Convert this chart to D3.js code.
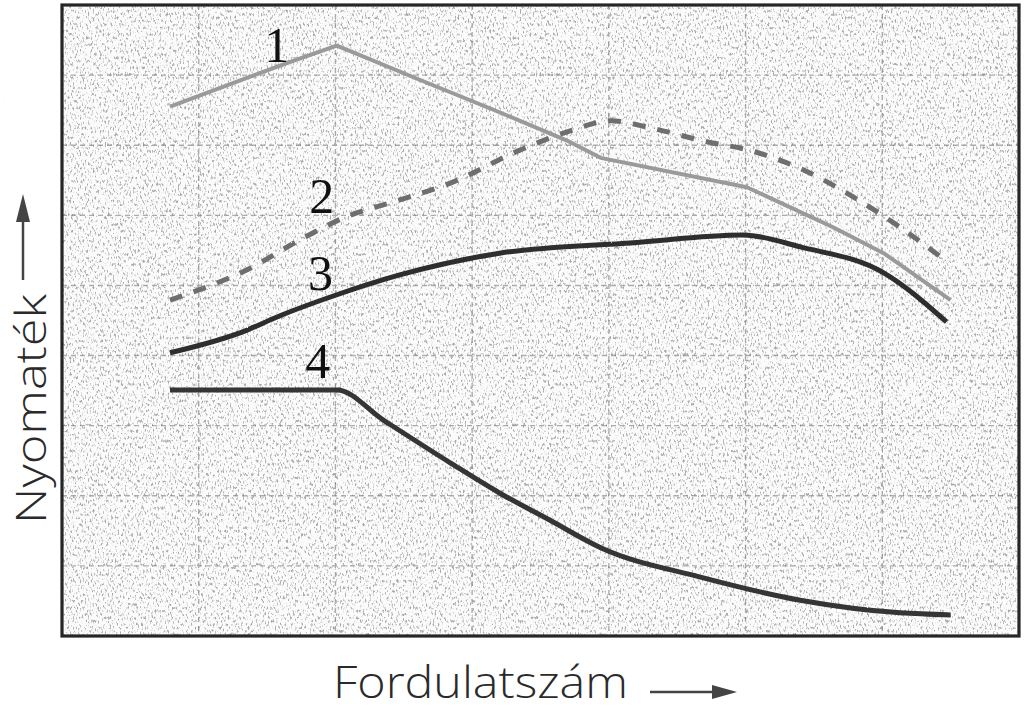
<!DOCTYPE html>
<html>
<head>
<meta charset="utf-8">
<script src="https://cdn.jsdelivr.net/npm/d3@7/dist/d3.min.js"></script>
<style>
  html, body { margin: 0; padding: 0; background: #fff; }
  svg { display: block; }
</style>
</head>
<body>
<svg id="chart" width="1024" height="718"></svg>
<script>
// ---- data (abstract units: x 0..7 columns, y 0..9 rows) ----
const curveNames = ["1", "2", "3", "4"];

const curve1X = [0.79, 1.67, 2.01, 2.62, 3.20, 3.69, 3.94, 5.01, 5.64, 6.01, 6.50];
const curve1Y = [7.55, 8.19, 8.42, 7.93, 7.47, 7.07, 6.82, 6.40, 5.83, 5.46, 4.79];

const curve2X = [0.79, 1.38, 1.74, 2.08, 2.42, 2.84, 3.35, 3.74, 4.01, 4.30, 4.67, 5.08, 5.42, 5.79, 6.13, 6.48];
const curve2Y = [4.79, 5.25, 5.65, 5.98, 6.19, 6.46, 6.93, 7.22, 7.35, 7.25, 7.07, 6.90, 6.65, 6.26, 5.83, 5.33];

const curve3X = [0.79, 1.35, 1.56, 2.00, 2.47, 3.20, 4.18, 4.98, 5.40, 6.01, 6.47];
const curve3Y = [4.04, 4.36, 4.54, 4.86, 5.15, 5.46, 5.61, 5.72, 5.55, 5.18, 4.48];

const curve4X = [0.79, 2.01, 2.35, 2.84, 3.20, 3.57, 3.94, 4.67, 5.40, 6.13, 6.50];
const curve4Y = [3.51, 3.51, 3.08, 2.47, 2.04, 1.65, 1.26, 0.84, 0.51, 0.33, 0.30];

const labelX = [1.57, 1.90, 1.89, 1.87];
const labelY = [8.19, 6.03, 4.94, 3.68];

const gridX = [1, 2, 3, 4, 5, 6];
const gridY = [1, 2, 3, 4, 5, 6, 7, 8];

const xTitle = "Fordulatszám";
const yTitle = "Nyomaték";

// ---- layout ----
const svg = d3.select("#chart");
const L = 62, R = 1019, T = 5, B = 636;
const x = d3.scaleLinear().domain([0, 7]).range([L, R]);
const y = d3.scaleLinear().domain([0, 9]).range([B, T]);

const defs = svg.append("defs");
const f = defs.append("filter").attr("id", "noise")
  .attr("filterUnits", "userSpaceOnUse")
  .attr("x", L).attr("y", T).attr("width", R - L).attr("height", B - T);
f.append("feTurbulence").attr("type", "fractalNoise")
  .attr("baseFrequency", "0.6 0.3").attr("numOctaves", 2).attr("seed", 7).attr("result", "t");
f.append("feColorMatrix").attr("type", "matrix")
  .attr("values", "0 0 0 0 0.4  0 0 0 0 0.4  0 0 0 0 0.4  -5 0 0 0 2.3");

const f2 = defs.append("filter").attr("id", "speck")
  .attr("filterUnits", "userSpaceOnUse")
  .attr("x", 0).attr("y", 0).attr("width", 1024).attr("height", 718);
f2.append("feTurbulence").attr("type", "fractalNoise")
  .attr("baseFrequency", "0.9").attr("numOctaves", 1).attr("seed", 3);
f2.append("feColorMatrix").attr("type", "matrix")
  .attr("values", "0 0 0 0 0.5  0 0 0 0 0.5  0 0 0 0 0.5  -14 0 0 0 3.6");

const lineFilter = defs.append("filter").attr("id", "rough");
lineFilter.append("feTurbulence").attr("type", "fractalNoise")
  .attr("baseFrequency", "0.8").attr("numOctaves", 1).attr("seed", 11).attr("result", "n");
lineFilter.append("feDisplacementMap").attr("in", "SourceGraphic").attr("in2", "n")
  .attr("scale", 1.6);

// background
svg.append("rect").attr("width", 1024).attr("height", 718).attr("fill", "#fff");
svg.append("rect").attr("width", 1024).attr("height", 718)
  .attr("filter", "url(#speck)").attr("opacity", 0.12);

// plot area
svg.append("rect").attr("x", L).attr("y", T).attr("width", R - L).attr("height", B - T)
  .attr("fill", "#fbfbfb");
svg.append("rect").attr("x", L).attr("y", T).attr("width", R - L).attr("height", B - T)
  .attr("filter", "url(#noise)");

// grid
const grid = svg.append("g").attr("stroke", "#7a7a7a").attr("stroke-width", 1.4)
  .attr("stroke-dasharray", "5 4").attr("opacity", 0.6);
grid.selectAll(".gx").data(gridX).join("line")
  .attr("x1", d => x(d)).attr("x2", d => x(d)).attr("y1", T).attr("y2", B);
grid.selectAll(".gy").data(gridY).join("line")
  .attr("y1", d => y(d)).attr("y2", d => y(d)).attr("x1", L).attr("x2", R);

// frame
svg.append("rect").attr("x", L).attr("y", T).attr("width", R - L).attr("height", B - T)
  .attr("fill", "none").attr("stroke", "#262626").attr("stroke-width", 3.2);

// curves
const series = [
  { xs: curve1X, ys: curve1Y, color: "#9a9a9a", w: 4, dash: null, curve: d3.curveLinear },
  { xs: curve2X, ys: curve2Y, color: "#6e6e6e", w: 5, dash: "13 12", curve: d3.curveMonotoneX },
  { xs: curve3X, ys: curve3Y, color: "#2e2e2e", w: 5, dash: null, curve: d3.curveMonotoneX },
  { xs: curve4X, ys: curve4Y, color: "#353535", w: 5, dash: null, curve: d3.curveMonotoneX }
];
const g = svg.append("g").attr("fill", "none").attr("filter", "url(#rough)");
series.forEach(s => {
  const pts = s.xs.map((v, i) => [v, s.ys[i]]);
  const line = d3.line().x(d => x(d[0])).y(d => y(d[1])).curve(s.curve);
  g.append("path").attr("d", line(pts))
    .attr("stroke", s.color).attr("stroke-width", s.w)
    .attr("stroke-dasharray", s.dash).attr("stroke-linecap", "butt")
    .attr("stroke-linejoin", "round");
});

// curve labels
svg.append("g").selectAll("text").data(curveNames).join("text")
  .attr("x", (d, i) => x(labelX[i])).attr("y", (d, i) => y(labelY[i]))
  .attr("text-anchor", "middle")
  .attr("font-family", "'Liberation Serif', 'DejaVu Serif', serif")
  .attr("font-size", 50).attr("fill", "#111")
  .text(d => d);

// axis titles
svg.append("text").attr("x", 333).attr("y", 698)
  .attr("font-family", "'Open Sans', 'DejaVu Sans', sans-serif").attr("font-weight", 300)
  .attr("font-size", 45).attr("fill", "#2a2a2a")
  .attr("textLength", 295).attr("lengthAdjust", "spacingAndGlyphs")
  .text(xTitle);

svg.append("text").attr("transform", "translate(46,524) rotate(-90)")
  .attr("font-family", "'Open Sans', 'DejaVu Sans', sans-serif").attr("font-weight", 300)
  .attr("font-size", 43).attr("fill", "#2a2a2a")
  .attr("textLength", 230).attr("lengthAdjust", "spacingAndGlyphs")
  .text(yTitle);

// arrows
const ar = svg.append("g").attr("fill", "#444").attr("stroke", "#444");
ar.append("line").attr("x1", 650).attr("x2", 716).attr("y1", 692).attr("y2", 692).attr("stroke-width", 2.5);
ar.append("path").attr("d", "M712,685 L737,692 L712,699 Z").attr("stroke", "none");
ar.append("line").attr("x1", 23).attr("x2", 23).attr("y1", 280).attr("y2", 218).attr("stroke-width", 2.5);
ar.append("path").attr("d", "M16,222 L23,194 L30,222 Z").attr("stroke", "none");
</script>
</body>
</html>
